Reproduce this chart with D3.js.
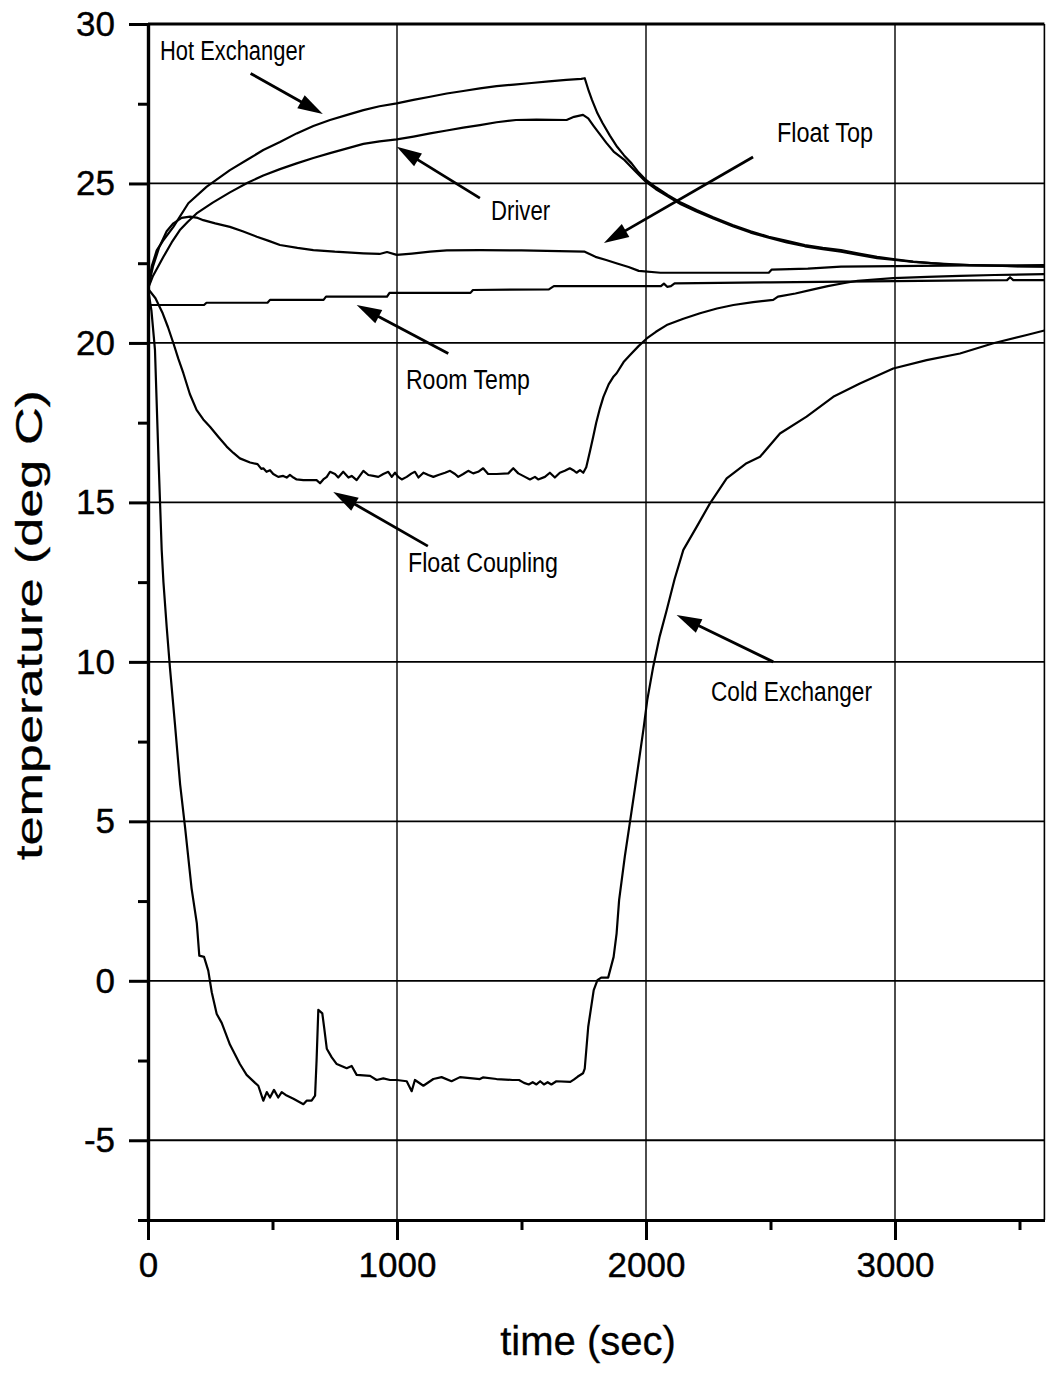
<!DOCTYPE html>
<html>
<head>
<meta charset="utf-8">
<script src="https://cdn.jsdelivr.net/npm/d3@7"></script>
<style>
  html, body { margin: 0; padding: 0; background: #fff; }
  svg text { font-family: "Liberation Sans", Arial, Helvetica, sans-serif; fill: #000; }
</style>
</head>
<body>
<svg id="chart" width="1046" height="1373"></svg>
<script>
// ---- measured temperatures: [time (sec), temperature (deg C)] ----
const hotExchanger = [
  [0,21.7],[15,22.4],[35,22.9],[60,23.2],[102,23.64],[162,24.38],[236,24.9],[329,25.42],[400,25.75],
  [463,26.05],[530,26.3],[597,26.57],[664,26.8],[731,26.99],[800,27.15],[865,27.3],[930,27.42],
  [999,27.51],[1066,27.62],[1133,27.72],[1200,27.82],[1266,27.9],[1333,27.98],[1400,28.05],
  [1470,28.1],[1540,28.15],[1610,28.2],[1680,28.25],[1740,28.28],[1754,28.3],[1770,27.9],
  [1783,27.62],[1805,27.2],[1826,26.89],[1855,26.5],[1884,26.15],[1912,25.88],[1942,25.63],
  [1970,25.35],[2000,25.11],[2040,24.88],[2087,24.64],[2140,24.4],[2203,24.17],[2270,23.94],
  [2348,23.7],[2420,23.5],[2493,23.33],[2565,23.2],[2638,23.07],[2710,22.98],[2783,22.91],
  [2855,22.8],[2928,22.7],[3000,22.62],[3073,22.55],[3145,22.5],[3218,22.47],[3300,22.44],
  [3400,22.42],[3500,22.4],[3600,22.39]
];
const driver = [
  [0,21.7],[20,22.1],[62,22.7],[95,23.15],[128,23.54],[160,23.8],[195,24.06],[260,24.4],[329,24.72],
  [400,25.02],[463,25.25],[530,25.45],[597,25.63],[664,25.8],[731,25.95],[800,26.1],[865,26.24],
  [930,26.32],[999,26.38],[1066,26.47],[1133,26.57],[1200,26.66],[1266,26.75],[1333,26.83],
  [1400,26.92],[1478,26.99],[1560,27.0],[1681,26.99],[1711,27.09],[1747,27.15],[1768,27.04],
  [1790,26.8],[1812,26.57],[1840,26.28],[1870,26.0],[1913,25.74],[1955,25.4],[2000,25.05],
  [2040,24.82],[2087,24.6],[2140,24.35],[2203,24.12],[2270,23.9],[2348,23.66],[2420,23.46],
  [2493,23.3],[2565,23.15],[2638,23.03],[2710,22.94],[2783,22.86],[2855,22.76],[2928,22.66],
  [3000,22.6],[3073,22.54],[3145,22.5],[3218,22.46],[3300,22.44],[3400,22.42],[3500,22.41],[3600,22.4]
];
const floatTop = [
  [0,21.7],[20,22.4],[45,23.0],[75,23.5],[102,23.75],[135,23.92],[169,23.96],[200,23.92],[222,23.85],
  [270,23.75],[329,23.64],[380,23.5],[437,23.33],[485,23.2],[530,23.07],[600,22.98],[664,22.91],
  [750,22.86],[800,22.84],[865,22.81],[930,22.79],[960,22.85],[999,22.76],[1060,22.8],[1133,22.86],
  [1200,22.9],[1333,22.91],[1500,22.9],[1650,22.88],[1754,22.86],[1797,22.7],[1840,22.6],
  [1884,22.49],[1930,22.38],[1971,22.26],[2058,22.2],[2300,22.2],[2493,22.2],[2505,22.3],
  [2650,22.33],[2783,22.39],[3000,22.41],[3300,22.43],[3600,22.44]
];
const roomTemp = [
  [0,21.19],[225,21.19],[235,21.26],[480,21.26],[490,21.35],[705,21.35],[715,21.45],[960,21.45],
  [970,21.57],[1295,21.57],[1305,21.66],[1610,21.68],[1630,21.78],[2060,21.78],[2072,21.86],
  [2085,21.76],[2100,21.78],[2115,21.87],[2500,21.9],[2900,21.93],[3300,21.96],[3450,21.97],
  [3462,22.06],[3475,21.97],[3600,21.97]
];
const floatCoupling = [
  [0,21.7],[30,21.4],[59,20.93],[80,20.5],[102,19.99],[122,19.5],[142,19.05],[168,18.4],[195,17.9],
  [222,17.6],[249,17.37],[283,17.05],[316,16.75],[343,16.55],[369,16.38],[410,16.25],[440,16.2],
  [455,16.05],[463,16.07],[476,15.96],[490,16.01],[503,15.89],[523,15.8],[543,15.83],[557,15.78],
  [570,15.86],[584,15.78],[597,15.72],[624,15.7],[657,15.7],[677,15.7],[691,15.6],[704,15.72],
  [718,15.8],[731,15.96],[751,15.89],[764,15.78],[784,15.96],[805,15.78],[818,15.83],[838,15.7],
  [865,15.99],[885,15.86],[905,15.83],[925,15.8],[945,15.89],[965,15.96],[979,15.8],[992,15.93],
  [1005,15.8],[1019,15.72],[1039,15.8],[1059,15.91],[1072,15.96],[1086,15.78],[1106,15.93],
  [1126,15.86],[1146,15.8],[1166,15.86],[1193,15.93],[1213,15.99],[1233,15.89],[1246,15.8],
  [1266,15.89],[1286,15.99],[1306,15.91],[1326,15.96],[1346,16.07],[1366,15.89],[1400,15.89],
  [1447,15.91],[1467,16.07],[1487,15.91],[1514,15.8],[1534,15.72],[1554,15.8],[1567,15.72],
  [1594,15.8],[1614,15.93],[1634,15.78],[1654,15.93],[1674,15.99],[1694,16.07],[1708,16.01],
  [1721,15.93],[1735,16.01],[1748,15.93],[1760,16.1],[1775,16.6],[1788,17.06],[1800,17.5],
  [1815,17.95],[1829,18.31],[1850,18.7],[1870,18.95],[1882,19.05],[1910,19.4],[1936,19.62],
  [1970,19.9],[2003,20.14],[2040,20.35],[2083,20.56],[2150,20.76],[2217,20.93],[2285,21.08],
  [2351,21.19],[2430,21.28],[2511,21.35],[2530,21.45],[2600,21.55],[2672,21.68],[2730,21.78],
  [2792,21.87],[2850,21.95],[2993,22.03],[3130,22.07],[3261,22.1],[3400,22.13],[3600,22.16]
];
const coldExchanger = [
  [0,21.7],[14,21.0],[28,19.78],[41,16.64],[55,13.51],[62,12.5],[75,11.1],[88,9.83],[108,8.07],
  [129,6.16],[149,4.8],[175,2.9],[196,1.81],[206,0.79],[225,0.75],[242,0.32],[256,-0.36],
  [276,-1.04],[296,-1.32],[329,-2.0],[369,-2.61],[396,-2.95],[430,-3.2],[443,-3.29],[463,-3.76],
  [477,-3.49],[490,-3.66],[506,-3.42],[523,-3.66],[537,-3.49],[557,-3.6],[584,-3.7],[624,-3.87],
  [637,-3.76],[657,-3.76],[671,-3.6],[677,-2.5],[684,-0.91],[700,-1.02],[708,-1.5],[718,-2.13],
  [738,-2.4],[758,-2.61],[798,-2.74],[818,-2.67],[838,-2.95],[892,-2.98],[918,-3.11],[945,-3.06],
  [972,-3.11],[999,-3.11],[1039,-3.15],[1059,-3.46],[1072,-3.11],[1106,-3.29],[1146,-3.08],
  [1179,-3.02],[1219,-3.15],[1253,-3.02],[1333,-3.08],[1345,-3.03],[1400,-3.08],[1464,-3.11],
  [1490,-3.11],[1510,-3.2],[1529,-3.25],[1545,-3.18],[1560,-3.25],[1575,-3.15],[1590,-3.25],
  [1605,-3.18],[1620,-3.25],[1640,-3.15],[1696,-3.17],[1710,-3.1],[1725,-3.01],[1747,-2.9],
  [1754,-2.75],[1768,-1.44],[1790,-0.29],[1805,0.02],[1820,0.1],[1848,0.1],[1870,0.75],
  [1882,1.49],[1892,2.53],[1915,3.9],[1936,5.0],[1955,6.0],[1972,6.92],[1990,7.9],[2005,8.8],
  [2029,9.85],[2055,10.8],[2083,11.62],[2115,12.6],[2150,13.51],[2204,14.24],[2257,14.97],
  [2324,15.75],[2404,16.23],[2458,16.43],[2538,17.16],[2645,17.69],[2752,18.31],[2859,18.73],
  [2993,19.2],[3127,19.46],[3261,19.67],[3395,19.99],[3529,20.25],[3600,20.39]
];

const seriesNames = ["Hot Exchanger", "Driver", "Float Top", "Room Temp", "Float Coupling", "Cold Exchanger"];
const seriesData  = [hotExchanger, driver, floatTop, roomTemp, floatCoupling, coldExchanger];

const xTicks = [0, 1000, 2000, 3000];
const xMinorTicks = [500, 1500, 2500, 3500];
const yTicks = [-5, 0, 5, 10, 15, 20, 25, 30];
const yMinorTicks = [-7.5, -2.5, 2.5, 7.5, 12.5, 17.5, 22.5, 27.5];

const xTitle = "time (sec)";
const yTitle = "temperature (deg C)";

// ---- layout ----
const svg = d3.select("#chart");
const plotL = 148, plotR = 1044.4, plotT = 24, plotB = 1220;

const x = d3.scaleLinear().domain([0, 3600]).range([plotL, plotR]);
const y = d3.scaleLinear().domain([-7.5, 30]).range([plotB, plotT]);

svg.append("defs").append("clipPath").attr("id", "plot-clip")
  .append("rect").attr("x", plotL).attr("y", plotT).attr("width", plotR - plotL).attr("height", plotB - plotT);

// grid
const grid = svg.append("g").attr("stroke", "#000").attr("fill", "none");
grid.selectAll("line.h").data(yTicks.filter(v => v < 30)).join("line")
  .attr("class", "h")
  .attr("x1", plotL).attr("x2", plotR)
  .attr("y1", d => y(d)).attr("y2", d => y(d))
  .attr("stroke-width", 1.8);
grid.selectAll("line.v").data(xTicks.filter(v => v > 0)).join("line")
  .attr("class", "v")
  .attr("x1", d => x(d)).attr("x2", d => x(d))
  .attr("y1", plotT).attr("y2", plotB)
  .attr("stroke-width", 1.4);

// frame: heavy top, light right
svg.append("line").attr("x1", plotL).attr("x2", plotR).attr("y1", plotT).attr("y2", plotT)
  .attr("stroke", "#000").attr("stroke-width", 3);
svg.append("line").attr("x1", plotR).attr("x2", plotR).attr("y1", plotT).attr("y2", plotB)
  .attr("stroke", "#000").attr("stroke-width", 1.6);

// data lines
const line = d3.line().x(d => x(d[0])).y(d => y(d[1]));
svg.append("g").attr("clip-path", "url(#plot-clip)")
  .selectAll("path").data(seriesData).join("path")
  .attr("d", line)
  .attr("fill", "none").attr("stroke", "#000").attr("stroke-width", 2.2)
  .attr("stroke-linejoin", "round");

// axes
const fmt = d => String(d);
function styleAxis(g) {
  g.select(".domain").attr("stroke-width", 3.2);
  g.selectAll(".tick line").attr("stroke-width", 3);
  g.selectAll(".tick text")
    .attr("font-size", 35)
    .attr("font-family", "'Liberation Sans', Arial, sans-serif")
    .attr("stroke", "#000").attr("stroke-width", 0.4);
}
svg.append("g").attr("transform", `translate(${plotL},0)`)
  .call(d3.axisLeft(y).tickValues(yMinorTicks).tickSize(10).tickSizeOuter(0).tickFormat(""))
  .call(styleAxis);
svg.append("g").attr("transform", `translate(${plotL},0)`)
  .call(d3.axisLeft(y).tickValues(yTicks).tickSize(19).tickSizeOuter(0).tickPadding(14).tickFormat(fmt))
  .call(styleAxis);
svg.append("g").attr("transform", `translate(0,${plotB})`)
  .call(d3.axisBottom(x).tickValues(xMinorTicks).tickSize(10).tickSizeOuter(0).tickFormat(""))
  .call(styleAxis);
svg.append("g").attr("transform", `translate(0,${plotB})`)
  .call(d3.axisBottom(x).tickValues(xTicks).tickSize(20).tickSizeOuter(0).tickPadding(12).tickFormat(fmt))
  .call(styleAxis);

// axis titles
svg.append("text").attr("x", 588).attr("y", 1355).attr("text-anchor", "middle")
  .attr("font-size", 40).attr("stroke", "#000").attr("stroke-width", 0.3).text(xTitle);
svg.append("text").attr("transform", "translate(42,625) rotate(-90)").attr("text-anchor", "middle")
  .attr("font-size", 37).attr("textLength", 470).attr("lengthAdjust", "spacingAndGlyphs")
  .attr("stroke", "#000").attr("stroke-width", 0.3).text(yTitle);

// annotations: label anchor (time, temp), label width, arrow tail and tip (time, temp)
const annotations = [
  { name: seriesNames[0], at: [48, 28.87],   w: 145, tail: [412, 28.45],  tip: [702, 27.18] },
  { name: seriesNames[1], at: [1378, 23.85], w: 59,  tail: [1333, 24.54], tip: [999, 26.15] },
  { name: seriesNames[2], at: [2526, 26.3],  w: 96,  tail: [2430, 25.83], tip: [1831, 23.13] },
  { name: seriesNames[3], at: [1036, 18.55], w: 124, tail: [1206, 19.67], tip: [838, 21.19] },
  { name: seriesNames[4], at: [1044, 12.82], w: 150, tail: [1124, 13.63], tip: [744, 15.33] },
  { name: seriesNames[5], at: [2261, 8.77],  w: 161, tail: [2511, 10.0],  tip: [2123, 11.47] }
];

const ann = svg.append("g");
ann.selectAll("text").data(annotations).join("text")
  .attr("x", d => x(d.at[0])).attr("y", d => y(d.at[1]))
  .attr("font-size", 27)
  .attr("textLength", d => d.w).attr("lengthAdjust", "spacingAndGlyphs")
  .text(d => d.name);

const headLen = 25, headHalf = 7.5;
annotations.forEach(d => {
  const x0 = x(d.tail[0]), y0 = y(d.tail[1]);
  const x1 = x(d.tip[0]), y1 = y(d.tip[1]);
  const dx = x1 - x0, dy = y1 - y0, len = Math.hypot(dx, dy);
  const ux = dx / len, uy = dy / len;
  const bx = x1 - ux * headLen, by = y1 - uy * headLen;
  ann.append("line").attr("x1", x0).attr("y1", y0).attr("x2", bx + ux * 2).attr("y2", by + uy * 2)
    .attr("stroke", "#000").attr("stroke-width", 2.8);
  ann.append("path")
    .attr("d", `M${x1},${y1}L${bx - uy * headHalf},${by + ux * headHalf}L${bx + uy * headHalf},${by - ux * headHalf}Z`)
    .attr("fill", "#000");
});
</script>
</body>
</html>
